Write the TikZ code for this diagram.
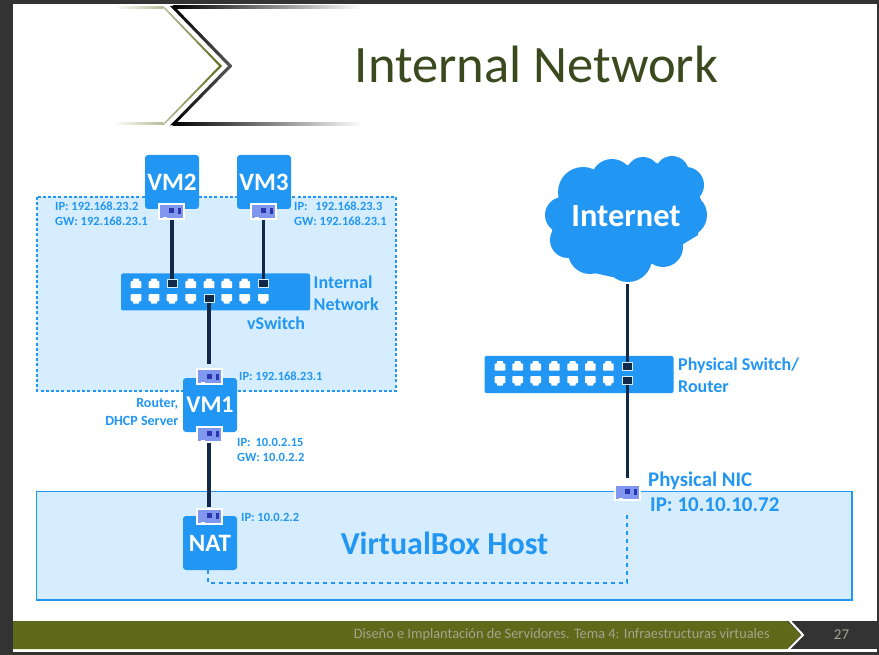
\documentclass[tikz,border=0pt]{standalone}
\usepackage{fontspec}
\setmainfont{Carlito}
\usetikzlibrary{positioning}
\definecolor{netblue}{HTML}{2196F3}
\definecolor{lightnet}{HTML}{D6EDFF}
\definecolor{cable}{HTML}{12294A}
\definecolor{slidedark}{HTML}{333333}
\definecolor{olivebar}{HTML}{5F691A}
\definecolor{titlegreen}{HTML}{3B4A1E}
\definecolor{footgray}{HTML}{A3A58E}
\definecolor{nicblue}{HTML}{7F97EE}
\begin{document}
\begin{tikzpicture}[
        x=1pt, y=-1pt,
        node distance=0pt,
        vm/.style={rectangle, fill=netblue, text=white, minimum width=54pt, minimum height=54pt, inner sep=0pt, rounded corners=3pt, font=\bfseries\fontsize{25}{25}\selectfont},
        switchbox/.style={rectangle, fill=netblue, minimum width=189pt, minimum height=37pt, inner sep=0pt, rounded corners=2pt},
        nic/.style={rectangle, fill=white, minimum width=27pt, minimum height=17pt, inner sep=0pt, path picture={
            \fill[nicblue] ([shift={(2pt,2pt)}]path picture bounding box.south west) rectangle ([shift={(-2pt,-2pt)}]path picture bounding box.north east);
            \fill[white] ([shift={(5pt,0pt)}]path picture bounding box.south west) rectangle ([shift={(9pt,2.6pt)}]path picture bounding box.south west);
            \fill[blue!55!black, opacity=.65] ([shift={(-3pt,-2pt)}]path picture bounding box.center) rectangle ([shift={(2pt,3pt)}]path picture bounding box.center);
            \fill[blue!55!black, opacity=.65] ([shift={(6pt,-3pt)}]path picture bounding box.center) rectangle ([shift={(9pt,3pt)}]path picture bounding box.center);
            }},
        portup/.style={rectangle, minimum width=10.6pt, minimum height=10pt, inner sep=0pt, path picture={
            \fill[white, rounded corners=.6pt] ([shift={(0pt,0.5pt)}]path picture bounding box.south west) -- ([shift={(10.6pt,0.5pt)}]path picture bounding box.south west) -- ([shift={(10.6pt,7.5pt)}]path picture bounding box.south west) -- ([shift={(8.3pt,7.5pt)}]path picture bounding box.south west) -- ([shift={(8.3pt,10pt)}]path picture bounding box.south west) -- ([shift={(2.3pt,10pt)}]path picture bounding box.south west) -- ([shift={(2.3pt,7.5pt)}]path picture bounding box.south west) -- ([shift={(0pt,7.5pt)}]path picture bounding box.south west) -- cycle;
            }},
        portdown/.style={rectangle, minimum width=10.6pt, minimum height=10pt, inner sep=0pt, path picture={
            \fill[white, rounded corners=.6pt] ([shift={(0pt,-0.5pt)}]path picture bounding box.north west) -- ([shift={(10.6pt,-0.5pt)}]path picture bounding box.north west) -- ([shift={(10.6pt,-7.5pt)}]path picture bounding box.north west) -- ([shift={(8.3pt,-7.5pt)}]path picture bounding box.north west) -- ([shift={(8.3pt,-10pt)}]path picture bounding box.north west) -- ([shift={(2.3pt,-10pt)}]path picture bounding box.north west) -- ([shift={(2.3pt,-7.5pt)}]path picture bounding box.north west) -- ([shift={(0pt,-7.5pt)}]path picture bounding box.north west) -- cycle;
            }},
        portused/.style={rectangle, fill=cable, draw=lightnet, line width=.8pt, minimum width=10pt, minimum height=8pt, inner sep=0pt},
        wire/.style={draw=cable, line width=3.2pt},
        hostlink/.style={draw=netblue, line width=1.6pt, dash pattern=on 4pt off 4pt},
        addr/.style={text=netblue, font=\bfseries\fontsize{12.5}{15}\selectfont, align=left, inner sep=0pt},
        tag/.style={text=netblue, font=\bfseries\fontsize{18}{22}\selectfont, align=left, inner sep=0pt}
    ]
    % slide background
    \useasboundingbox (0,0) rectangle (879,655);
    \fill[slidedark] (0,0) rectangle (879,655);
    \fill[white] (13,4) rectangle (877,652);

    % title chevrons
    \shade[left color=white, right color=olivebar!45!white] (113,6.5) rectangle (163,8.5);
    \shade[left color=white, right color=olivebar!45!white] (113,123) rectangle (163,125);
    \shade[left color=olivebar!45!white, right color=olivebar] (162,6.5) -- (164,6.5) -- (222,66) -- (164,125) -- (162,125) -- (219,66) -- cycle;
    \shade[left color=black, right color=white] (173,6) rectangle (362,9);
    \shade[left color=black, right color=white] (173,122.5) rectangle (362,125.5);
    \shade[left color=black, right color=black!65] (170,6) -- (174,6) -- (232.5,66) -- (174,125.5) -- (170,125.5) -- (228,66) -- cycle;
    \node[text=titlegreen, font=\fontsize{52.6}{52.6}\selectfont, inner sep=0pt] (title) at (536.5,64) {Internal Network};

    % network areas
    \fill[lightnet] (37,197) rectangle (396,391);
    \draw[netblue, line width=1.4pt, dash pattern=on 3pt off 2.2pt] (37,197) rectangle (396,391);
    \draw[netblue, line width=1.6pt, fill=lightnet] (36.5,491.5) rectangle (852,600);

    % machines
    \node[vm] (vm2) at (172,182) {VM2};
    \node[vm] (vm3) at (264,182) {VM3};
    \node[vm, font=\bfseries\fontsize{24}{24}\selectfont] (vm1) at (210,405) {VM1};
    \node[vm, font=\bfseries\fontsize{25}{25}\selectfont] (nat) at (210,543) {NAT};

    % cards
    \node[nic] (nic2) at (171.5,211.5) {};
    \node[nic] (nic3) at (263.5,211.5) {};
    \node[nic] (nic1a) at (209.5,376.5) {};
    \node[nic] (nic1b) at (209.5,434) {};
    \node[nic] (nicnat) at (209.5,516) {};
    \node[nic] (nicphy) at (627.5,492) {};

    % internal vswitch
    \node[switchbox] (vswitch) at (215.5,292) {};
    \foreach \n/\px in {a1/136, a2/154, a4/190.7, a5/209, a6/226.7, a7/244.7}
        \node[portup] (\n) at (\px,283.7) {};
    \foreach \n/\px in {b1/136, b2/154, b3/172, b4/190.7, b6/226.7, b7/244.7, b8/263.3}
        \node[portdown] (\n) at (\px,298.7) {};
    \node[portused] (a3) at (172,283.7) {};
    \node[portused] (a8) at (263.3,283.7) {};
    \node[portused] (b5) at (209,298.7) {};

    % physical switch
    \node[switchbox] (pswitch) at (579,374.5) {};
    \foreach \n/\px in {c1/500, c2/517.7, c3/535.7, c4/554.3, c5/572.7, c6/590.3, c7/608.3}
        \node[portup] (\n) at (\px,366) {};
    \foreach \n/\px in {d1/500, d2/517.7, d3/535.7, d4/554.3, d5/572.7, d6/590.3, d7/608.3}
        \node[portdown] (\n) at (\px,380.7) {};
    \node[portused] (c8) at (627.3,366) {};
    \node[portused] (d8) at (627.3,380.7) {};

    % cloud
    \foreach \cx/\cy/\r in {583/192/25, 612/180/21, 643/174/17, 672/173/17, 686/185/18, 685/215/22, 563/215/18, 568/240/18, 590/252/22, 628/258/24, 663/247/20}
        \fill[netblue] (\cx,\cy) circle (\r);
    \fill[netblue] (598,167) -- (630,165) -- (656,163) -- (690,173) -- (701,200) -- (698,235) -- (685,243) -- (650,265) -- (612,277) -- (590,272) -- (567,256) -- (552,230) -- (558,198) -- cycle;
    \node[text=white, font=\bfseries\fontsize{32.4}{32.4}\selectfont, inner sep=0pt] (internet) at (626,216) {Internet};
    \coordinate (cloudfoot) at (627.3,284);

    % cables
    \coordinate (nic1top) at (209,364);
    \coordinate (natwire) at (209,507);
    \coordinate (nicwire) at (627.3,478);
    \draw[wire] (a3 |- nic2.south) -- (a3);
    \draw[wire] (a8 |- nic3.south) -- (a8);
    \draw[wire] (b5) -- (nic1top);
    \draw[wire] (natwire |- nic1b.south) -- (natwire);
    \draw[wire] (cloudfoot) -- (c8);
    \draw[wire] (d8) -- (nicwire);
    \node[portused] at (a3) {};
    \node[portused] at (a8) {};
    \node[portused] at (b5) {};
    \node[portused] at (c8) {};
    \node[portused] at (d8) {};

    % host link
    \coordinate (nicfoot) at (627,512);
    \draw[hostlink] (208,570) -- (208,583) -- (627,583) -- (nicfoot);

    % labels
    \node[addr, anchor=west] (ipvm2) at (55,213.5) {IP: 192.168.23.2\\GW: 192.168.23.1};
    \node[addr, anchor=west] (ipvm3) at (294,213.5) {IP:\ \ \,192.168.23.3\\GW: 192.168.23.1};
    \node[addr, anchor=west] (ipvm1a) at (239,376) {IP: 192.168.23.1};
    \node[addr, anchor=west] (ipvm1b) at (237,449.5) {IP:\ \,10.0.2.15\\GW: 10.0.2.2};
    \node[addr, anchor=west] (ipnat) at (241,517) {IP: 10.0.2.2};
    \node[addr, anchor=east, align=right, font=\bfseries\fontsize{14}{18}\selectfont] (router) at (178.5,412) {Router,\\DHCP Server};
    \node[tag, anchor=west] (intnet) at (313.5,293.5) {Internal\\Network};
    \node[tag, anchor=west] (vsw) at (247,323) {vSwitch};
    \node[tag, anchor=west] (phys) at (678,375.5) {Physical Switch/\\Router};
    \node[tag, anchor=west, font=\bfseries\fontsize{20.8}{24}\selectfont] (phynic) at (648,481) {Physical NIC};
    \node[tag, anchor=west, font=\bfseries\fontsize{21}{24}\selectfont] (phyip) at (650,505) {IP: 10.10.10.72};
    \node[text=netblue, font=\bfseries\fontsize{32}{32}\selectfont, inner sep=0pt] (hostname) at (444.5,543.5) {VirtualBox Host};

    % footer
    \fill[slidedark] (780,621) rectangle (877,649);
    \fill[olivebar] (13,621) -- (787,621) -- (801,635) -- (787,649) -- (13,649) -- cycle;
    \draw[white, line width=2pt] (789,620) -- (803,635) -- (788,650);
    \node[text=footgray, font=\fontsize{14.35}{14.35}\selectfont, inner sep=0pt, anchor=east] (foot) at (770,635) {Diseño e Implantación de Servidores. Tema 4: Infraestructuras virtuales};
    \node[text=footgray, font=\fontsize{15}{15}\selectfont, inner sep=0pt] (page) at (841.5,635) {27};
\end{tikzpicture}
\end{document}
